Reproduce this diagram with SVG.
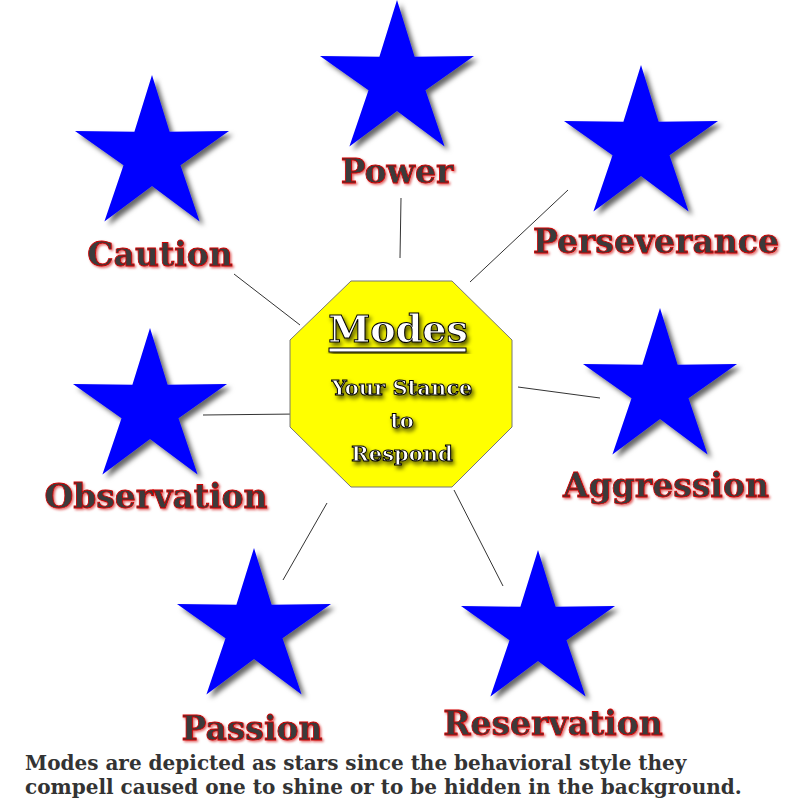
<svg xmlns="http://www.w3.org/2000/svg" width="800" height="800" viewBox="0 0 800 800">
<style>
.lbl{font-family:"DejaVu Serif","Liberation Serif",serif;font-weight:bold;font-size:33px;fill:#3a3a3a;stroke:#d00000;stroke-width:0.8;text-anchor:middle;filter:url(#ts)}
.cw{font-family:"DejaVu Serif","Liberation Serif",serif;font-weight:bold;fill:#fff;stroke:#000;stroke-width:1;text-anchor:middle;filter:url(#cs)}
.star{fill:#0000ff;filter:url(#sh)}
.con{stroke:#333;stroke-width:1;fill:none}
.note{font-family:"DejaVu Serif","Liberation Serif",serif;font-weight:bold;font-size:20px;fill:#333}
</style>
<defs>
<filter id="sh" x="-20%" y="-20%" width="150%" height="150%"><feDropShadow dx="4" dy="4" stdDeviation="2.5" flood-color="#000" flood-opacity="0.6"/></filter>
<filter id="ts" x="-10%" y="-20%" width="120%" height="150%"><feDropShadow dx="1.5" dy="1.5" stdDeviation="0.8" flood-color="#c00" flood-opacity="0.6"/></filter>
<filter id="cs" x="-10%" y="-20%" width="130%" height="160%"><feDropShadow dx="2" dy="3" stdDeviation="2" flood-color="#000" flood-opacity="0.7"/></filter>
<polygon id="st" points="0,-81 17.6,-24.3 77,-25 28.5,9.3 47.6,65.5 0,30 -47.6,65.5 -28.5,9.3 -77,-25 -17.6,-24.3"/>
</defs>
<rect width="800" height="800" fill="#fff"/>
<g id="connectors">
<line class="con" x1="401" y1="198" x2="400" y2="258"/>
<line class="con" x1="568" y1="190" x2="470" y2="282"/>
<line class="con" x1="234" y1="274" x2="300" y2="325"/>
<line class="con" x1="518" y1="387" x2="600" y2="398"/>
<line class="con" x1="203" y1="415" x2="298" y2="414"/>
<line class="con" x1="283" y1="580" x2="327" y2="503"/>
<line class="con" x1="454" y1="490" x2="503" y2="586"/>
</g>
<g id="center">
<polygon points="351,281 452,281 512,340 512,427 452,487 351,487 290,427 290,340" fill="#ffff00" stroke="#777" stroke-width="1"/>
<text class="cw" x="398" y="342" font-size="38">Modes</text>
<rect x="329" y="348" width="137" height="4" fill="#fff" stroke="#000" stroke-width="1" filter="url(#cs)"/>
<text class="cw" x="402" y="395" font-size="21">Your Stance</text>
<text class="cw" x="402" y="428" font-size="21">to</text>
<text class="cw" x="402" y="461" font-size="21">Respond</text>
</g>
<g id="power"><use href="#st" class="star" x="397" y="81"/><text class="lbl" x="397" y="183">Power</text></g>
<g id="perseverance"><use href="#st" class="star" x="641" y="146"/><text class="lbl" x="656" y="253">Perseverance</text></g>
<g id="caution"><use href="#st" class="star" x="152" y="156"/><text class="lbl" x="160" y="266">Caution</text></g>
<g id="aggression"><use href="#st" class="star" x="660" y="389"/><text class="lbl" x="666" y="497">Aggression</text></g>
<g id="observation"><use href="#st" class="star" x="150" y="409"/><text class="lbl" x="156" y="508">Observation</text></g>
<g id="passion"><use href="#st" class="star" x="254" y="629"/><text class="lbl" x="252" y="740">Passion</text></g>
<g id="reservation"><use href="#st" class="star" x="538" y="631"/><text class="lbl" x="553" y="735">Reservation</text></g>
<text class="note" x="25" y="770">Modes are depicted as stars since the behavioral style they</text>
<text class="note" x="25" y="794">compell caused one to shine or to be hidden in the background.</text>
</svg>
